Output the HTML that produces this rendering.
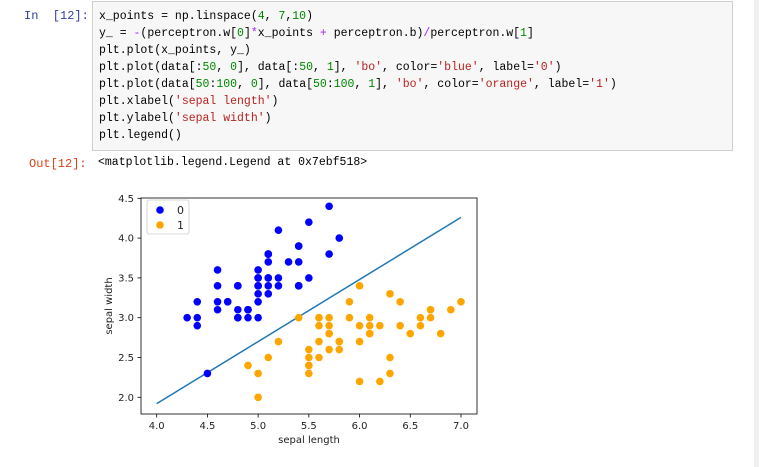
<!DOCTYPE html>
<html><head><meta charset="utf-8"><style>
body{margin:0;width:759px;height:467px;background:#fff;position:relative;overflow:hidden;font-family:"Liberation Mono","Noto Sans CJK SC",monospace;}
.p{position:absolute;font-size:12px;}
.code{position:absolute;left:92px;top:1px;width:639px;height:148px;background:#f7f7f7;border:1px solid #cfcfcf;}
.code pre{margin:0;position:absolute;left:6px;top:6px;font-family:"Liberation Mono","Noto Sans CJK SC",monospace;font-size:11.5px;line-height:17px;color:#000;}
.s{color:#ba2121}.n{color:#080}.o{color:#aa22ff}
.sb{position:absolute;left:754px;top:0;width:5px;height:467px;background:#f0f0f0;}
</style></head><body>
<div class="p" style="left:24px;top:9px;color:#303f9f">In&nbsp; [12]:</div>
<div class="code"><pre>x_points = np.linspace(<span class="n">4</span>, <span class="n">7</span>,<span class="n">10</span>)
y_ = <span class="o">-</span>(perceptron.w[<span class="n">0</span>]<span class="o">*</span>x_points <span class="o">+</span> perceptron.b)<span class="o">/</span>perceptron.w[<span class="n">1</span>]
plt.plot(x_points, y_)
plt.plot(data[:<span class="n">50</span>, <span class="n">0</span>], data[:<span class="n">50</span>, <span class="n">1</span>], <span class="s">'bo'</span>, color=<span class="s">'blue'</span>, label=<span class="s">'0'</span>)
plt.plot(data[<span class="n">50</span>:<span class="n">100</span>, <span class="n">0</span>], data[<span class="n">50</span>:<span class="n">100</span>, <span class="n">1</span>], <span class="s">'bo'</span>, color=<span class="s">'orange'</span>, label=<span class="s">'1'</span>)
plt.xlabel(<span class="s">'sepal length'</span>)
plt.ylabel(<span class="s">'sepal width'</span>)
plt.legend()</pre></div>
<div class="p" style="left:29px;top:157px;color:#d84315">Out[12]:</div>
<div class="p" style="left:98px;top:156px;font-size:11.5px">&lt;matplotlib.legend.Legend at 0x7ebf518&gt;</div>
<div class="sb"></div>
<svg id="c" width="759" height="467" style="position:absolute;left:0;top:0" font-family="'DejaVu Sans',sans-serif" font-size="10"></svg>
<script>
var S=[[5.1,3.5],[4.9,3.0],[4.7,3.2],[4.6,3.1],[5.0,3.6],[5.4,3.9],[4.6,3.4],[5.0,3.4],[4.4,2.9],[4.9,3.1],[5.4,3.7],[4.8,3.4],[4.8,3.0],[4.3,3.0],[5.8,4.0],[5.7,4.4],[5.4,3.9],[5.1,3.5],[5.7,3.8],[5.1,3.8],[5.4,3.4],[5.1,3.7],[4.6,3.6],[5.1,3.3],[4.8,3.4],[5.0,3.0],[5.0,3.4],[5.2,3.5],[5.2,3.4],[4.7,3.2],[4.8,3.1],[5.4,3.4],[5.2,4.1],[5.5,4.2],[4.9,3.1],[5.0,3.2],[5.5,3.5],[4.9,3.1],[4.4,3.0],[5.1,3.4],[5.0,3.5],[4.5,2.3],[4.4,3.2],[5.0,3.5],[5.1,3.8],[4.8,3.0],[5.1,3.8],[4.6,3.2],[5.3,3.7],[5.0,3.3]];
var V=[[7.0,3.2],[6.4,3.2],[6.9,3.1],[5.5,2.3],[6.5,2.8],[5.7,2.8],[6.3,3.3],[4.9,2.4],[6.6,2.9],[5.2,2.7],[5.0,2.0],[5.9,3.0],[6.0,2.2],[6.1,2.9],[5.6,2.9],[6.7,3.1],[5.6,3.0],[5.8,2.7],[6.2,2.2],[5.6,2.5],[5.9,3.2],[6.1,2.8],[6.3,2.5],[6.1,2.8],[6.4,2.9],[6.6,3.0],[6.8,2.8],[6.7,3.0],[6.0,2.9],[5.7,2.6],[5.5,2.4],[5.5,2.4],[5.8,2.7],[6.0,2.7],[5.4,3.0],[6.0,3.4],[6.7,3.1],[6.3,2.3],[5.6,3.0],[5.5,2.5],[5.5,2.6],[6.1,3.0],[5.8,2.6],[5.0,2.3],[5.6,2.7],[5.7,3.0],[5.7,2.9],[6.2,2.9],[5.1,2.5],[5.7,2.8]];
function X(v){return 156.7+(v-4)*101.43}function Y(v){return 397.3-(v-2)*79.6}
var h='<rect x="141" y="198" width="336" height="216" fill="#fff" stroke="#000" stroke-width="0.8"/>';
h+='<line x1="'+X(4)+'" y1="'+Y(1.92)+'" x2="'+X(7)+'" y2="'+Y(4.26)+'" stroke="#1f77b4" stroke-width="1.5"/>';
S.forEach(function(p){h+='<circle cx="'+X(p[0])+'" cy="'+Y(p[1])+'" r="3.8" fill="#0000ff"/>'});
V.forEach(function(p){h+='<circle cx="'+X(p[0])+'" cy="'+Y(p[1])+'" r="3.8" fill="#ffa500"/>'});
for(var i=0;i<7;i++){var v=4+i*0.5,x=X(v);h+='<line x1="'+x+'" y1="414" x2="'+x+'" y2="417.5" stroke="#000" stroke-width="0.8"/><text x="'+x+'" y="429" text-anchor="middle" fill="#222">'+v.toFixed(1)+'</text>'}
for(var i=0;i<6;i++){var v=2+i*0.5,y=Y(v);h+='<line x1="137.5" y1="'+y+'" x2="141" y2="'+y+'" stroke="#000" stroke-width="0.8"/><text x="134" y="'+(y+3.5)+'" text-anchor="end" fill="#222">'+v.toFixed(1)+'</text>'}
h+='<text x="309" y="443" text-anchor="middle" fill="#222">sepal length</text>';
h+='<text transform="translate(112,306) rotate(-90)" text-anchor="middle" fill="#222">sepal width</text>';
h+='<rect x="147" y="200" width="42" height="34" rx="2" fill="#fff" stroke="#ccc" stroke-width="0.8"/>';
h+='<circle cx="160" cy="210" r="3.8" fill="#0000ff"/><text x="177" y="214" fill="#222" font-size="11">0</text>';
h+='<circle cx="160" cy="225" r="3.8" fill="#ffa500"/><text x="177" y="229" fill="#222" font-size="11">1</text>';
document.getElementById('c').innerHTML=h;
</script>
</body></html>
